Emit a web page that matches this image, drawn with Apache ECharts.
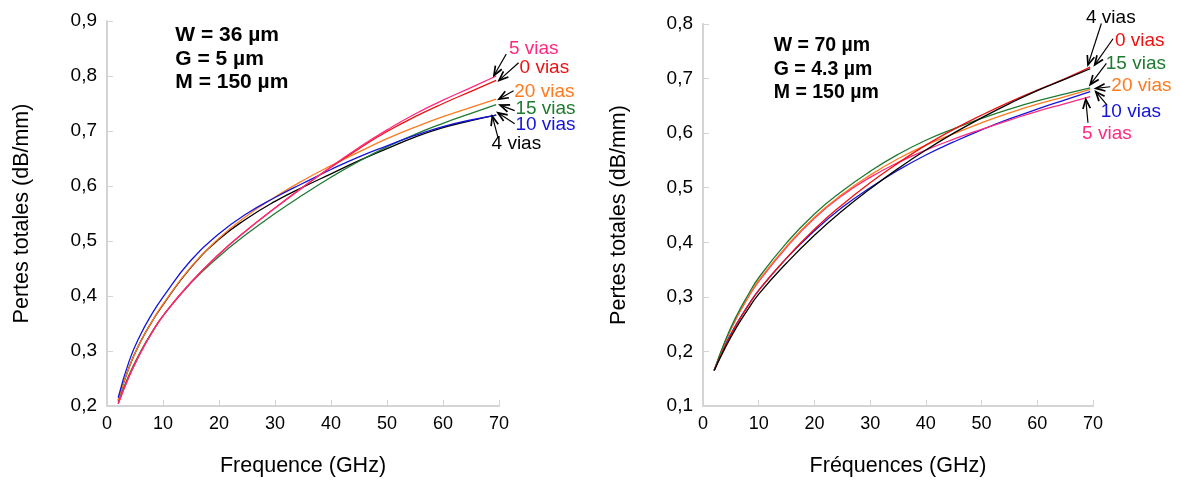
<!DOCTYPE html>
<html><head><meta charset="utf-8">
<script src="https://cdn.jsdelivr.net/npm/echarts@6/dist/echarts.min.js"></script>
<style>html,body{margin:0;padding:0;background:#fff}#c{width:1179px;height:482px}</style>
</head><body><div id="c"></div>
<script>
// ---- data ----
const freq = [2, 4, 6, 8, 10, 15, 20, 25, 30, 35, 40, 45, 50, 55, 60, 65, 69.5];
// left chart (W = 36 µm)
const left5  = [0.204,0.255,0.297,0.333,0.364,0.425,0.476,0.520,0.560,0.598,0.635,0.670,0.702,0.731,0.756,0.779,0.800];
const left0  = [0.204,0.255,0.297,0.333,0.364,0.425,0.476,0.520,0.560,0.598,0.634,0.668,0.699,0.726,0.750,0.772,0.792];
const left20 = [0.211,0.272,0.317,0.353,0.385,0.453,0.505,0.546,0.580,0.610,0.637,0.662,0.686,0.707,0.726,0.743,0.758];
const left15 = [0.207,0.258,0.299,0.334,0.364,0.424,0.472,0.513,0.550,0.584,0.616,0.645,0.671,0.694,0.714,0.732,0.748];
const left10 = [0.215,0.283,0.330,0.367,0.398,0.465,0.513,0.550,0.579,0.605,0.630,0.653,0.673,0.692,0.708,0.720,0.729];
const left4  = [0.210,0.272,0.317,0.353,0.384,0.452,0.503,0.541,0.572,0.598,0.622,0.646,0.668,0.689,0.706,0.719,0.729];
// right chart (W = 70 µm)
const right15 = [0.165,0.220,0.265,0.302,0.335,0.399,0.452,0.494,0.530,0.561,0.587,0.608,0.627,0.644,0.659,0.672,0.683];
const right20 = [0.165,0.218,0.262,0.298,0.330,0.393,0.446,0.488,0.523,0.553,0.578,0.599,0.619,0.637,0.653,0.667,0.680];
const right5  = [0.165,0.218,0.261,0.297,0.328,0.391,0.444,0.486,0.519,0.546,0.569,0.589,0.607,0.624,0.640,0.654,0.667];
const right10 = [0.165,0.212,0.250,0.283,0.312,0.371,0.421,0.464,0.500,0.532,0.560,0.584,0.606,0.626,0.644,0.661,0.676];
const right0  = [0.165,0.210,0.249,0.282,0.312,0.371,0.424,0.469,0.509,0.545,0.578,0.607,0.633,0.657,0.679,0.700,0.721];
const right4  = [0.165,0.207,0.244,0.276,0.305,0.362,0.413,0.458,0.498,0.535,0.569,0.600,0.628,0.654,0.678,0.699,0.718];

const xTicks = [0, 10, 20, 30, 40, 50, 60, 70];
const leftParams  = ['W = 36 µm', 'G = 5 µm', 'M = 150 µm'];
const rightParams = ['W = 70 µm', 'G = 4.3 µm', 'M = 150 µm'];
const viaNames = ['0 vias', '4 vias', '5 vias', '10 vias', '15 vias', '20 vias'];

// ---- styles / annotation placement (data coordinates) ----
const COLORS = {'0 vias':'#ee1111','4 vias':'#000000','5 vias':'#ff2a7f','10 vias':'#1414dd','15 vias':'#1e7a30','20 vias':'#ff7a1e'};
const FONT = '"Liberation Sans", Arial, sans-serif';
// [name, text point, arrow start, arrow tip]
const leftNotes = [
  ['5 vias',  [76.2,0.849], [71.3,0.840], [69.1,0.801]],
  ['0 vias',  [78.1,0.815], [73.5,0.824], [70.0,0.792]],
  ['20 vias', [78.1,0.772], [72.6,0.773], [70.0,0.758]],
  ['15 vias', [78.3,0.741], [72.8,0.737], [70.2,0.747]],
  ['10 vias', [78.3,0.711], [72.8,0.713], [69.8,0.733]],
  ['4 vias',  [73.1,0.676], [69.8,0.689], [68.8,0.727]]
];
const rightNotes = [
  ['4 vias',  [73.2,0.812], [71.5,0.801], [69.1,0.725]],
  ['0 vias',  [78.4,0.770], [73.6,0.773], [70.3,0.725]],
  ['15 vias', [77.7,0.727], [72.4,0.728], [69.5,0.689]],
  ['20 vias', [78.7,0.687], [73.1,0.685], [70.5,0.682]],
  ['10 vias', [76.8,0.639], [72.5,0.652], [70.5,0.676]],
  ['5 vias',  [72.5,0.599], [69.1,0.619], [68.7,0.662]]
];
const leftParamPos = [12.2, 0.874];
const rightParamPos = [12.7, 0.760];

function pairs(ys){ return freq.map((f,i)=>[f, ys[i]]); }
function mkSeries(name, ys, idx){
  return {type:'line', name, data:pairs(ys), xAxisIndex:idx, yAxisIndex:idx, smooth:0.5,
    symbol:'none', lineStyle:{color:COLORS[name], width:1.3}, itemStyle:{color:COLORS[name]}, z:2};
}
const fmtY = v => v.toFixed(1).replace('.', ',');

function axisX(idx, name){
  return {type:'value', gridIndex:idx, min:0, max:70, interval:10,
    name, nameLocation:'middle', nameGap:49,
    nameTextStyle:{fontFamily:FONT, fontSize:21.5, color:'#000'},
    axisLine:{lineStyle:{color:'#d4d4d4', width:2}},
    axisTick:{inside:true, length:6, lineStyle:{color:'#d4d4d4', width:1}},
    axisLabel:{fontFamily:FONT, fontSize:18, color:'#000', margin:9},
    splitLine:{show:false}};
}
function axisY(idx, min, max, nameGap){
  return {type:'value', gridIndex:idx, min, max, interval:0.1,
    name:'Pertes totales (dB/mm)', nameLocation:'middle', nameGap, nameRotate:90,
    nameTextStyle:{fontFamily:FONT, fontSize:21.5, color:'#000'},
    axisLine:{show:true, lineStyle:{color:'#d4d4d4', width:2}},
    axisTick:{show:true, inside:true, length:6, lineStyle:{color:'#d4d4d4', width:1}},
    axisLabel:{fontFamily:FONT, fontSize:19, color:'#000', margin:10, formatter:fmtY},
    splitLine:{show:false}};
}

const chart = echarts.init(document.getElementById('c'), null, {renderer:'canvas'});
const series = [
  mkSeries('4 vias', left4, 0), mkSeries('15 vias', left15, 0), mkSeries('20 vias', left20, 0),
  mkSeries('10 vias', left10, 0), mkSeries('0 vias', left0, 0), mkSeries('5 vias', left5, 0),
  mkSeries('10 vias', right10, 1), mkSeries('5 vias', right5, 1), mkSeries('20 vias', right20, 1),
  mkSeries('15 vias', right15, 1), mkSeries('0 vias', right0, 1), mkSeries('4 vias', right4, 1)
];
chart.setOption({
  animation:false,
  backgroundColor:'#fff',
  grid:[
    {left:107, right:680, top:21, bottom:70, containLabel:false},
    {left:703, right:86, top:24, bottom:69, containLabel:false}
  ],
  xAxis:[axisX(0,'Frequence (GHz)'), axisX(1,'Fréquences (GHz)')],
  yAxis:[axisY(0,0.2,0.9,74), axisY(1,0.1,0.8,73)],
  series
});

// ---- annotations positioned through the axes ----
function toPx(idx, p){ return chart.convertToPixel({xAxisIndex:idx, yAxisIndex:idx}, p); }
const graphics = [];
function addNotes(idx, notes){
  notes.forEach(([name, tp, a0, a1])=>{
    const t = toPx(idx, tp), s = toPx(idx, a0), e = toPx(idx, a1);
    graphics.push({type:'text', x:t[0], y:t[1], z:10,
      style:{text:name, fill:COLORS[name], font:'19px '+FONT, textAlign:'center', textVerticalAlign:'middle'}});
    graphics.push({type:'line', z:10, shape:{x1:s[0], y1:s[1], x2:e[0], y2:e[1]}, style:{stroke:'#000', lineWidth:1.2}});
    const ang = Math.atan2(s[1]-e[1], s[0]-e[0]);
    const L = 10, w = 0.38;
    graphics.push({type:'polyline', z:10, shape:{points:[
      [e[0]+L*Math.cos(ang+w), e[1]+L*Math.sin(ang+w)], [e[0], e[1]],
      [e[0]+L*Math.cos(ang-w), e[1]+L*Math.sin(ang-w)]]},
      style:{stroke:'#000', lineWidth:1.7, fill:null}});
  });
}
addNotes(0, leftNotes);
addNotes(1, rightNotes);
function addParams(idx, pos, lines, size){
  const p = toPx(idx, pos);
  lines.forEach((txt, i)=>{
    graphics.push({type:'text', x:p[0], y:p[1]+i*23.5, z:10,
      style:{text:txt, fill:'#000', font:'bold '+size+'px '+FONT, textAlign:'left', textVerticalAlign:'middle'}});
  });
}
addParams(0, leftParamPos, leftParams, 21);
addParams(1, rightParamPos, rightParams, 19.5);
chart.setOption({graphic:graphics});
</script>
</body></html>
